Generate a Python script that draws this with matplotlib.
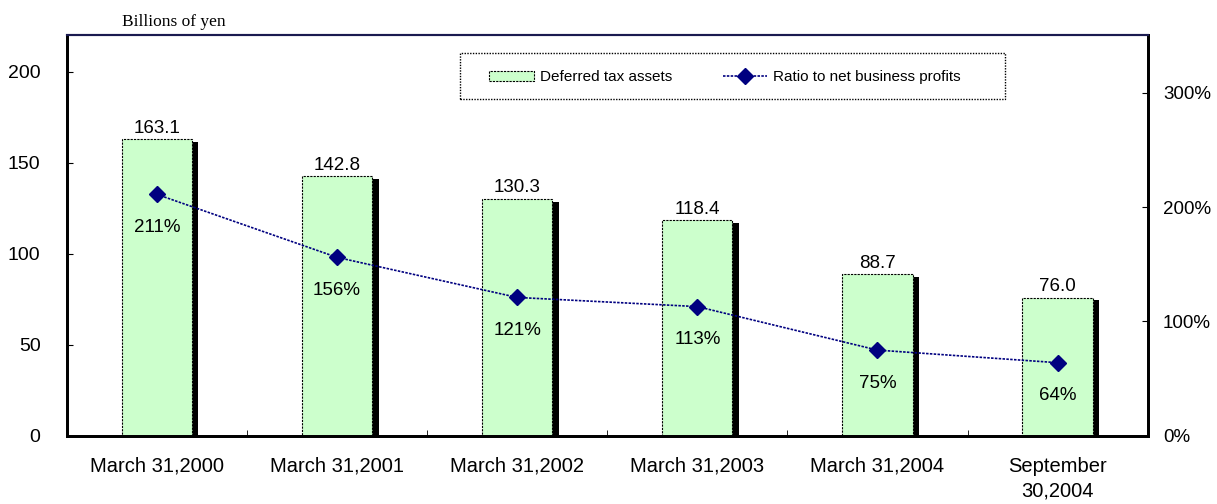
import matplotlib.pyplot as plt
from matplotlib.patches import Rectangle
import numpy as np

categories = ['March 31,2000', 'March 31,2001', 'March 31,2002',
              'March 31,2003', 'March 31,2004', 'September\n30,2004']
assets = [163.1, 142.8, 130.3, 118.4, 88.7, 76.0]
ratio = [211, 156, 121, 113, 75, 64]
ratio_labels = ['211%', '156%', '121%', '113%', '75%', '64%']

plt.rcParams['font.family'] = ['Liberation Sans', 'DejaVu Sans']

fig = plt.figure(figsize=(12.17, 5.04), dpi=100)
ax = fig.add_axes([0.055, 0.135, 0.888, 0.795])
ax2 = ax.twinx()

x = np.arange(len(categories))
w = 0.39
# shadow behind each bar
ax.bar(x + 0.035, [v - 1.6 for v in assets], width=w, color='black', zorder=1)
bars = ax.bar(x, assets, width=w, color='#CCFFCC', edgecolor='black',
              linewidth=0.8, linestyle=(0, (2, 1)), zorder=2,
              label='Deferred tax assets')
for xi, v in zip(x, assets):
    ax.text(xi, v + 1.2, f'{v:.1f}', ha='center', va='bottom', fontsize=13.5)

ax.set_xlim(-0.5, len(categories) - 0.5)
ax.set_ylim(0, 220)
ax.set_yticks([0, 50, 100, 150, 200])
ax.set_xticks(x)
ax.set_xticklabels(categories, fontsize=14.5, linespacing=1.35)
ax.set_xticks(np.arange(0.5, len(categories) - 1, 1), minor=True)
ax.tick_params(axis='x', which='major', length=0, pad=15)
ax.tick_params(axis='x', which='minor', direction='in', length=4)
ax.tick_params(axis='y', direction='in', length=4, labelsize=14, pad=19)

ax2.set_ylim(0, 350)
ax2.set_yticks([0, 100, 200, 300])
ax2.set_yticklabels(['0%', '100%', '200%', '300%'])
ax2.tick_params(axis='y', direction='in', length=4, labelsize=13.5, pad=11)
line, = ax2.plot(x, ratio, color='#000080', linestyle=(0, (1.5, 0.8)),
                 linewidth=1.2, marker='D', markersize=8, zorder=5,
                 label='Ratio to net business profits')
for xi, v, lab in zip(x, ratio, ratio_labels):
    ax2.text(xi, v - 29, lab, ha='center', va='center', fontsize=13.5)

for a in (ax, ax2):
    for side in ('left', 'right', 'bottom'):
        a.spines[side].set_linewidth(2)
        a.spines[side].set_color('black')
    a.spines['top'].set_linewidth(1.5)
    a.spines['top'].set_color('#1a1a50')

# legend box drawn separately so its padding matches
ax2.add_patch(Rectangle((0.3636, 0.842), 0.5041, 0.113, transform=ax2.transAxes,
                        facecolor='white', edgecolor='black', linewidth=1,
                        linestyle=(0, (1, 1)), zorder=6))
leg = ax2.legend([bars, line], ['Deferred tax assets', 'Ratio to net business profits'],
                 loc='center left', bbox_to_anchor=(0.391, 0.895), ncol=2,
                 fontsize=11, frameon=False, borderpad=0, borderaxespad=0,
                 columnspacing=3.3, handlelength=2.9, handletextpad=0.4)
leg.set_zorder(7)

fig.text(0.1, 0.957, 'Billions of yen', fontsize=12.5, family='Liberation Serif',
         ha='left', va='center')

fig.savefig('out.png', dpi=100)
